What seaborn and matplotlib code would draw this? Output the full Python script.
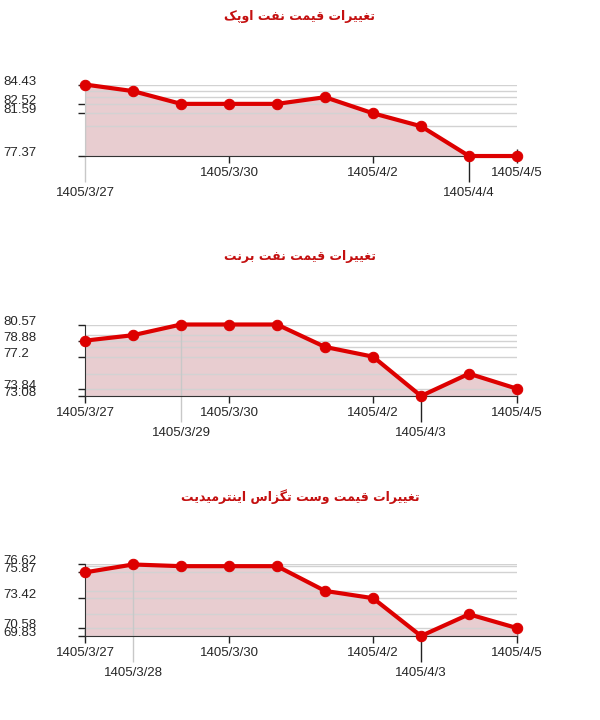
import matplotlib
matplotlib.use("Agg")
import matplotlib.pyplot as plt
import pandas as pd
import seaborn as sns

# data ------------------------------------------------------------
dates = ["1405/3/27", "1405/3/28", "1405/3/29", "1405/3/30", "1405/3/31",
         "1405/4/1", "1405/4/2", "1405/4/3", "1405/4/4", "1405/4/5"]

opec = [84.43, 83.78, 82.52, 82.52, 82.52, 83.18, 81.59, 80.31, 77.37, 77.37]
brent = [78.88, 79.45, 80.57, 80.57, 80.57, 78.22, 77.2, 73.08, 75.42, 73.84]
wti = [75.87, 76.62, 76.46, 76.46, 76.46, 74.11, 73.42, 69.83, 71.89, 70.58]

titles = ["تغییرات قیمت نفت اوپک",
          "تغییرات قیمت نفت برنت",
          "تغییرات قیمت وست تگزاس اینترمیدیت"]

opec_yticks = ["84.43", "82.52", "81.59", "77.37"]
brent_yticks = ["80.57", "78.88", "77.2", "73.84", "73.08"]
wti_yticks = ["76.62", "75.87", "73.42", "70.58", "69.83"]

# upper row / lower row of date labels
opec_top = ["1405/3/30", "1405/4/2", "1405/4/5"]
opec_low = ["1405/3/27", "1405/4/4"]
brent_top = ["1405/3/27", "1405/3/30", "1405/4/2", "1405/4/5"]
brent_low = ["1405/3/29", "1405/4/3"]
wti_top = ["1405/3/27", "1405/3/30", "1405/4/2", "1405/4/5"]
wti_low = ["1405/3/28", "1405/4/3"]

# style -------------------------------------------------------------
RED = "#dd0000"
FILL = "#e8cdd0"
GRID = "#d2d2d2"
GUIDE = "#c8c8c8"
TITLE = "#c41010"

sns.set_style("white")
plt.rcParams["font.family"] = ["Liberation Sans", "DejaVu Sans"]

# tiny arabic shaper (matplotlib does no text shaping / bidi)
FORMS = {  # isolated, final, initial, medial
    "ا": ("\uFE8D", "\uFE8E", None, None),
    "ب": ("\uFE8F", "\uFE90", "\uFE91", "\uFE92"),
    "پ": ("\uFB56", "\uFB57", "\uFB58", "\uFB59"),
    "ت": ("\uFE95", "\uFE96", "\uFE97", "\uFE98"),
    "د": ("\uFEA9", "\uFEAA", None, None),
    "ر": ("\uFEAD", "\uFEAE", None, None),
    "ز": ("\uFEAF", "\uFEB0", None, None),
    "س": ("\uFEB1", "\uFEB2", "\uFEB3", "\uFEB4"),
    "غ": ("\uFECD", "\uFECE", "\uFECF", "\uFED0"),
    "ف": ("\uFED1", "\uFED2", "\uFED3", "\uFED4"),
    "ق": ("\uFED5", "\uFED6", "\uFED7", "\uFED8"),
    "ک": ("\uFB8E", "\uFB8F", "\uFB90", "\uFB91"),
    "گ": ("\uFB92", "\uFB93", "\uFB94", "\uFB95"),
    "م": ("\uFEE1", "\uFEE2", "\uFEE3", "\uFEE4"),
    "ن": ("\uFEE5", "\uFEE6", "\uFEE7", "\uFEE8"),
    "و": ("\uFEED", "\uFEEE", None, None),
    "ی": ("\uFBFC", "\uFBFD", "\uFBFE", "\uFBFF"),
}


def shape(s):
    out = []
    for i, ch in enumerate(s):
        if ch not in FORMS:
            out.append(ch)
            continue
        prev = s[i - 1] if i > 0 else ""
        nxt = s[i + 1] if i + 1 < len(s) else ""
        jp = prev in FORMS and FORMS[prev][2] is not None
        jn = nxt in FORMS and FORMS[ch][2] is not None
        f = FORMS[ch]
        if jp and jn:
            out.append(f[3])
        elif jp:
            out.append(f[1])
        elif jn:
            out.append(f[2])
        else:
            out.append(f[0])
    return "".join(reversed(out))


def chart(ax, vals, yticks, top, low):
    df = pd.DataFrame({"date": range(len(dates)), "price": vals})
    lo, hi = min(vals), max(vals)

    ax.fill_between(df["date"], df["price"], lo, color=FILL, lw=0, zorder=1)
    ax.hlines(sorted(set(vals)), 0, len(dates) - 1, color=GRID, lw=1, zorder=2)
    sns.lineplot(data=df, x="date", y="price", ax=ax, color=RED, lw=3,
                 marker="o", markersize=7.5, markeredgecolor=RED,
                 zorder=4, clip_on=False)

    ax.set_xlim(0, len(dates) - 1)
    ax.set_ylim(lo, hi)
    ax.set_xlabel("")
    ax.set_ylabel("")

    # y axis
    ax.set_yticks([float(v) for v in yticks], yticks)
    ax.tick_params(axis="y", left=True, direction="out", length=5, width=1,
                   pad=54, labelsize=9.5, color="#222222")
    for t in ax.get_yticklabels():
        t.set_ha("left")
        t.set_va("baseline")

    # x axis: two rows of labels
    top_idx = [dates.index(d) for d in top]
    low_idx = [dates.index(d) for d in low]
    ax.set_xticks(top_idx, top)
    ax.set_xticks(low_idx, low, minor=True)
    ax.tick_params(axis="x", which="major", bottom=True, direction="inout",
                   length=10, width=1, pad=3, labelsize=9.5, color="#222222")
    ax.tick_params(axis="x", which="minor", bottom=True, direction="out",
                   length=19, width=1, pad=3.5, labelsize=9.5, color="#222222")

    # first lower label gets a light guide line
    g = low_idx[0]
    ax.axvline(g, color=GUIDE, lw=1, zorder=2)
    ax.xaxis.get_minor_ticks()[0].tick1line.set_markeredgecolor(GUIDE)

    for s in ("top", "right"):
        ax.spines[s].set_visible(False)
    ax.spines["bottom"].set_color("#333333")
    ax.spines["left"].set_color(GUIDE if g == 0 else "#333333")
    ax.spines["bottom"].set_zorder(3)


fig = plt.figure(figsize=(6, 7.2), dpi=100)

series = [(opec, opec_yticks, opec_top, opec_low),
          (brent, brent_yticks, brent_top, brent_low),
          (wti, wti_yticks, wti_top, wti_low)]
bottoms = [0.7833, 0.45, 0.1167]
title_y = [0.9764, 0.6431, 0.3097]

for (vals, yt, top, low), b, ty, title in zip(series, bottoms, title_y, titles):
    ax = fig.add_axes([0.1417, b, 0.72, 0.0993])
    chart(ax, vals, yt, top, low)
    fig.text(0.5, ty, shape(title), ha="center", va="center", color=TITLE,
             fontsize=9, fontweight="bold", family=["DejaVu Sans"])

fig.savefig("out.png", dpi=100)
